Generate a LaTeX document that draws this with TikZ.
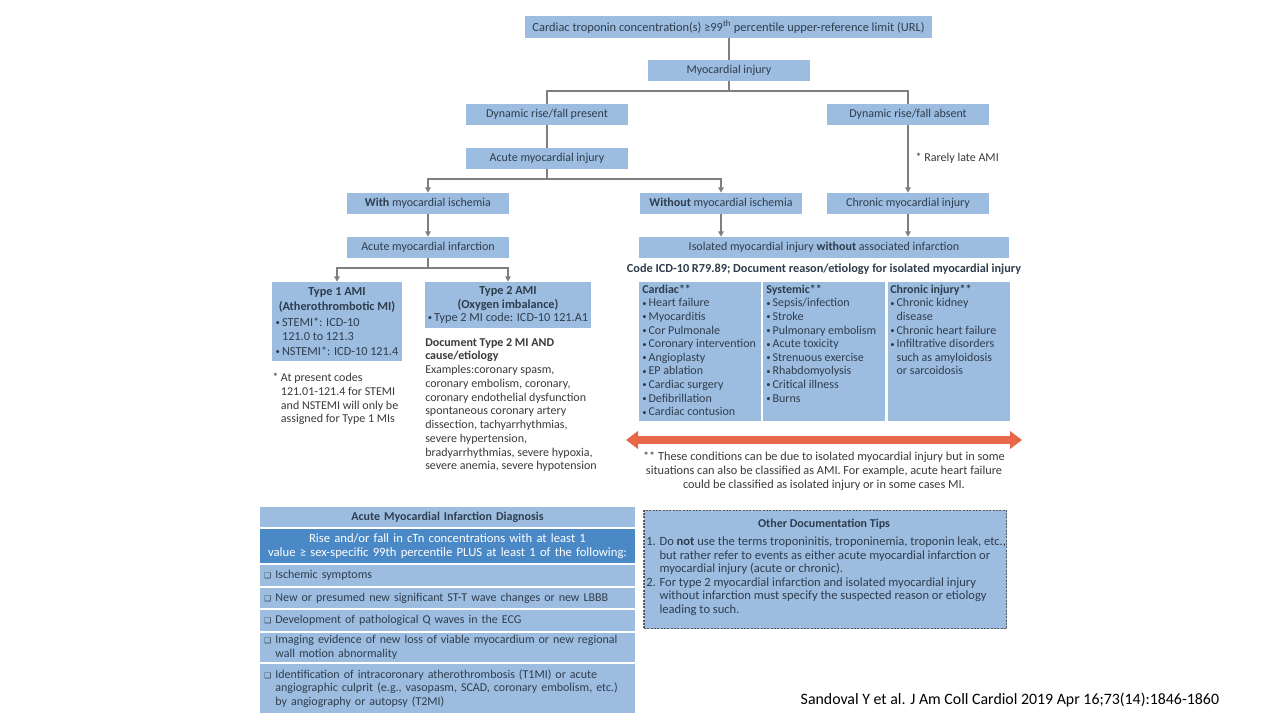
\documentclass[tikz,border=0pt]{standalone}
\usepackage{fontspec}
\setmainfont{Carlito}
\newfontfamily\dejavu{DejaVu Sans}
\usetikzlibrary{arrows.meta}
\definecolor{boxblue}{HTML}{9DBDE0}
\definecolor{darkblue}{HTML}{4A89C6}
\definecolor{txt}{HTML}{2E3D4D}
\definecolor{ftxt}{HTML}{3A3A3A}
\definecolor{conn}{HTML}{7F7F7F}
\definecolor{redarrow}{HTML}{E8674A}
\definecolor{tipborder}{HTML}{5A5A5A}
\newcommand{\chk}{{\dejavu\fontsize{6}{6}\selectfont ❑}\ }
\newcommand{\chkph}{\hphantom{{\dejavu\fontsize{6}{6}\selectfont ❑}\ }}
\newcommand{\bul}{\raisebox{0.12ex}{\fontsize{6.5}{6}\selectfont•}\,}
\newcommand{\bulph}{\hphantom{\bul}}
\begin{document}
\begin{tikzpicture}[x=0.75pt,y=-0.75pt,
  every node/.style={text=txt, font=\fontsize{9}{10.2}\selectfont},
  box/.style={fill=boxblue, inner sep=0pt, minimum width=121.5pt, minimum height=15.75pt},
  tline/.style={draw=conn, line width=1.1pt},
  arr/.style={tline, -{Triangle[length=4pt,width=4pt]}},
  lowtxt/.style={font=\fontsize{9}{10.2}\selectfont},
  foot/.style={text=ftxt, font=\fontsize{9}{10.3}\selectfont},
  trow/.style={fill=boxblue, inner xsep=3pt, inner ysep=0pt, minimum width=281.25pt, text width=275pt, align=left, font=\fontsize{9}{10.1}\selectfont},
]
\useasboundingbox[fill=white] (0,0) rectangle (1280,720);

% flow boxes
\node[box, minimum width=305.25pt, minimum height=16.5pt, font=\fontsize{9.3}{11}\selectfont] (top) at (728.5,27) {Cardiac troponin concentration(s) ≥99\textsuperscript{th} percentile upper-reference limit (URL)};
\node[box] (myo) at (729,70.5) {Myocardial injury};
\node[box] (dynp) at (547,114.5) {Dynamic rise/fall present};
\node[box] (dyna) at (908,114.5) {Dynamic rise/fall absent};
\node[box] (acinj) at (547,158.5) {Acute myocardial injury};
\node[box] (withi) at (428,203.5) {\textbf{With} myocardial ischemia};
\node[box] (woi) at (721,203.5) {\textbf{Without} myocardial ischemia};
\node[box] (chr) at (908,203.5) {Chronic myocardial injury};
\node[box] (ami) at (428,247.5) {Acute myocardial infarction};
\node[box, minimum width=277.5pt] (iso) at (824,247.5) {Isolated myocardial injury \textbf{without} associated infarction};
\node[font=\fontsize{9.2}{10}\selectfont\bfseries] (code) at (824,269) {Code ICD-10 R79.89; Document reason/etiology for isolated myocardial injury};
\node[anchor=west, text=ftxt] (rare) at (911,158) {* Rarely late AMI};

% connectors
\coordinate (j1) at (729,91);
\coordinate (j2) at (547,179);
\coordinate (j3) at (428,268);
\draw[tline] (myo.north) -- (myo.north |- top.south);
\draw[tline] (myo.south) -- (j1);
\draw[tline] (dynp.north) |- (j1) -| (dyna.north);
\draw[tline] (dynp) -- (acinj);
\draw[tline] (acinj.south) -- (j2);
\draw[arr] (j2) -| (withi.north);
\draw[arr] (j2) -| (woi.north);
\draw[arr] (dyna) -- (chr);
\draw[arr] (withi) -- (ami);
\draw[arr] (woi.south) -- (woi.south |- iso.north);
\draw[arr] (chr.south) -- (chr.south |- iso.north);

% type boxes
\node[box, minimum width=97.5pt, minimum height=59.25pt, align=left, font=\fontsize{9.2}{10.9}\selectfont] (t1) at (337,321.5)
  {\makebox[92pt]{\textbf{Type 1 AMI}}\\\makebox[92pt]{\textbf{(Atherothrombotic MI)}}\\[1pt]
   \bul STEMI*: ICD-10\\\bulph 121.0 to 121.3\\\bul NSTEMI*: ICD-10 121.4};
\node[box, minimum width=124.5pt, minimum height=34.5pt, align=center, font=\fontsize{9.2}{10.2}\selectfont] (t2) at (508,305)
  {\textbf{Type 2 AMI}\\\textbf{(Oxygen imbalance)}\\\bul Type 2 MI code: ICD-10 121.A1};
\draw[tline] (ami.south) -- (j3);
\draw[arr] (j3) -| (t1.north);
\draw[arr] (j3) -| (t2.north);

\node[foot, anchor=north west, align=left, inner sep=0pt] (t1foot) at (272,373)
  {* At present codes\\\hphantom{* }121.01-121.4 for STEMI\\\hphantom{* }and NSTEMI will only be\\\hphantom{* }assigned for Type 1 MIs};
\node[foot, anchor=north west, align=left, inner sep=0pt] (t2doc) at (425,338)
  {\textbf{Document Type 2 MI AND}\\\textbf{cause/etiology}\\Examples:coronary spasm,\\coronary embolism, coronary,\\coronary endothelial dysfunction\\spontaneous coronary artery\\dissection, tachyarrhythmias,\\severe hypertension,\\bradyarrhythmias, severe hypoxia,\\severe anemia, severe hypotension};

% isolated injury category boxes
\node[box, minimum width=91.5pt, minimum height=104.25pt] (card) at (700,351.7) {};
\node[box, minimum width=91.5pt, minimum height=104.25pt] (sys) at (824.2,351.7) {};
\node[box, minimum width=91.5pt, minimum height=104.25pt] (cinj) at (948.9,351.7) {};
\node[lowtxt, anchor=north west, align=left, inner sep=0pt] (cardt) at (642,284.5)
  {\textbf{Cardiac**}\\\bul Heart failure\\\bul Myocarditis\\\bul Cor Pulmonale\\\bul Coronary intervention\\\bul Angioplasty\\\bul EP ablation\\\bul Cardiac surgery\\\bul Defibrillation\\\bul Cardiac contusion};
\node[lowtxt, anchor=north west, align=left, inner sep=0pt] (syst) at (766,284.5)
  {\textbf{Systemic**}\\\bul Sepsis/infection\\\bul Stroke\\\bul Pulmonary embolism\\\bul Acute toxicity\\\bul Strenuous exercise\\\bul Rhabdomyolysis\\\bul Critical illness\\\bul Burns};
\node[lowtxt, anchor=north west, align=left, inner sep=0pt] (cinjt) at (890,284.5)
  {\textbf{Chronic injury**}\\\bul Chronic kidney\\\bulph disease\\\bul Chronic heart failure\\\bul Infiltrative disorders\\\bulph such as amyloidosis\\\bulph or sarcoidosis};

% red double arrow
\coordinate (ra) at (626,440);
\coordinate (rb) at (1022,440);
\draw[redarrow, line width=6pt, {Triangle[length=9pt,width=13pt]}-{Triangle[length=9pt,width=13pt]}] (ra) -- (rb);
\node[foot, align=center, font=\fontsize{9.2}{10.3}\selectfont] (arrfoot) at (824,471)
  {** These conditions can be due to isolated myocardial injury but in some\\situations can also be classified as AMI. For example, acute heart failure\\could be classified as isolated injury or in some cases MI.};

% AMI diagnosis table
\node[trow, minimum height=14.6pt, align=center, font=\fontsize{9}{10.1}\selectfont\bfseries] (th) at (447.5,517) {Acute Myocardial Infarction Diagnosis};
\node[trow, fill=darkblue, text=white, minimum height=25.5pt, align=center, font=\fontsize{9.5}{10.5}\selectfont] (td) at (447.5,546.3)
  {Rise and/or fall in cTn concentrations with at least 1\\value ≥ sex-specific 99th percentile PLUS at least 1 of the following:};
\node[trow, minimum height=15.5pt] (r1) at (447.5,575.7) {\chk Ischemic symptoms};
\node[trow, minimum height=15.5pt] (r2) at (447.5,598) {\chk New or presumed new significant ST-T wave changes or new LBBB};
\node[trow, minimum height=15.3pt] (r3) at (447.5,620.5) {\chk Development of pathological Q waves in the ECG};
\node[trow, minimum height=22pt] (r4) at (447.5,647.3) {\chk Imaging evidence of new loss of viable myocardium or new regional\\\chkph wall motion abnormality};
\node[trow, minimum height=36.5pt] (r5) at (447.5,688.4) {\chk Identification of intracoronary atherothrombosis (T1MI) or acute\\\chkph angiographic culprit (e.g., vasopasm, SCAD, coronary embolism, etc.)\\\chkph by angiography or autopsy (T2MI)};

% other documentation tips
\node[fill=boxblue, draw=tipborder, line width=0.9pt, dash pattern=on 1.5pt off 1pt, minimum width=272pt, minimum height=89pt, inner sep=0pt] (tips) at (825.3,569.5) {};
\node[font=\fontsize{9}{10}\selectfont\bfseries] (tipst) at (824,524) {Other Documentation Tips};
\node[anchor=north west, align=left, inner sep=0pt, font=\fontsize{9.4}{10.2}\selectfont] (tipsb) at (646,536.5)
  {1. Do \textbf{not} use the terms troponinitis, troponinemia, troponin leak, etc.,\\\hphantom{1. }but rather refer to events as either acute myocardial infarction or\\\hphantom{1. }myocardial injury (acute or chronic).\\2. For type 2 myocardial infarction and isolated myocardial injury\\\hphantom{2. }without infarction must specify the suspected reason or etiology\\\hphantom{2. }leading to such.};

% citation
\node[anchor=west, text=black, font=\fontsize{11.9}{13}\selectfont] (cite) at (796,700) {Sandoval Y et al. J Am Coll Cardiol 2019 Apr 16;73(14):1846-1860};
\end{tikzpicture}
\end{document}
